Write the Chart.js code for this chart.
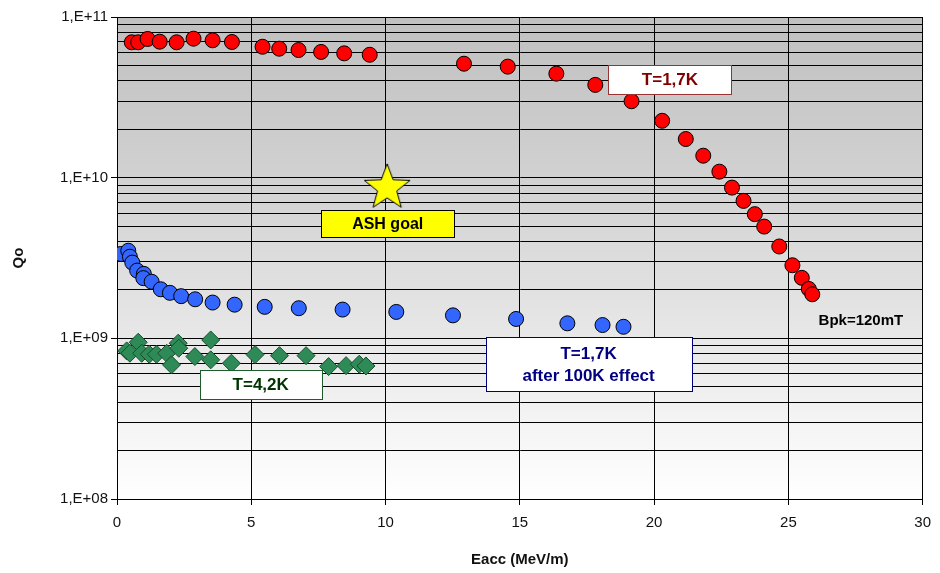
<!DOCTYPE html>
<html>
<head>
<meta charset="utf-8">
<script src="https://cdn.jsdelivr.net/npm/chart.js@4.4.1/dist/chart.umd.min.js"></script>
<style>
	html, body { margin: 0; padding: 0; background: #fff; }
	#wrap { width: 940px; height: 573px; position: relative; }
</style>
</head>
<body>
<div id="wrap"><canvas id="qe-chart"></canvas></div>
<script>
// T=1,7K before the 100K effect
const red_x = [0.55, 0.79, 1.14, 1.59, 2.22, 2.85, 3.56, 4.28, 5.42, 6.04, 6.76, 7.60, 8.46, 9.41,
	12.92, 14.55, 16.36, 17.81, 19.16, 20.30, 21.18, 21.83, 22.43, 22.90, 23.33, 23.75, 24.10,
	24.66, 25.15, 25.50, 25.76, 25.89];
const red_q = [6.96e10, 6.96e10, 7.3e10, 7.02e10, 6.96e10, 7.33e10, 7.16e10, 6.99e10, 6.53e10, 6.35e10,
	6.23e10, 6.06e10, 5.94e10, 5.82e10, 5.12e10, 4.91e10, 4.44e10, 3.78e10, 2.99e10, 2.26e10,
	1.74e10, 1.37e10, 1.09e10, 8.67e9, 7.17e9, 5.93e9, 4.96e9, 3.73e9, 2.85e9, 2.38e9, 2.03e9, 1.88e9];
// T=1,7K after 100K effect
const blue_x = [0.14, 0.42, 0.48, 0.57, 0.75, 1.00, 0.98, 1.29, 1.63, 1.97, 2.39, 2.91, 3.56, 4.38,
	5.50, 6.77, 8.40, 10.40, 12.51, 14.86, 16.77, 18.08, 18.86];
const blue_q = [3.35e9, 3.51e9, 3.22e9, 2.96e9, 2.64e9, 2.52e9, 2.37e9, 2.25e9, 2.02e9, 1.92e9, 1.83e9,
	1.75e9, 1.67e9, 1.62e9, 1.57e9, 1.54e9, 1.51e9, 1.46e9, 1.39e9, 1.32e9, 1.24e9, 1.21e9, 1.18e9];
// T=4,2K
const green_x = [0.36, 0.48, 0.79, 0.92, 1.20, 1.47, 1.85, 2.03, 2.28, 2.30, 2.90, 3.49, 3.49, 4.26,
	5.14, 6.05, 7.04, 7.88, 8.53, 9.02, 9.27];
const green_q = [8.35e8, 8.08e8, 9.45e8, 8.07e8, 7.96e8, 7.96e8, 8.07e8, 6.84e8, 9.33e8, 8.68e8, 7.70e8,
	9.77e8, 7.35e8, 7.00e8, 7.92e8, 7.80e8, 7.80e8, 6.67e8, 6.76e8, 6.90e8, 6.73e8];
// ASH goal
const goal_x = [10.06];
const goal_q = [8.9e9];

const x_ticks = [0, 5, 10, 15, 20, 25, 30];
const decades = [8, 9, 10, 11];

const notes = [
	{lines: ["T=1,7K"], x: 20.59, q: 4.08e10, w: 123, h: 29, fill: "#ffffff", edge: "#993333", color: "#800000"},
	{lines: ["ASH goal"], x: 10.08, q: 5.19e9, w: 133, h: 27, fill: "#ffff00", edge: "#000000", color: "#000000"},
	{lines: ["T=1,7K", "after 100K effect"], x: 17.56, q: 6.93e8, w: 206, h: 54, fill: "#ffffff", edge: "#000080", color: "#000080"},
	{lines: ["T=4,2K"], x: 5.35, q: 5.17e8, w: 122, h: 29, fill: "#ffffff", edge: "#1e5c2e", color: "#003300"},
	{lines: ["Bpk=120mT"], x: 27.7, q: 1.30e9, color: "#000000", plain: true}
];

const font_family = "'Liberation Sans', Arial, sans-serif";

function pts(xs, ys) {
	var out = [];
	for (let i = 0; i < xs.length; i++) out.push({x: xs[i], y: ys[i]});
	return out;
}

function is_decade(v) {
	const e = Math.round(Math.log10(v));
	return Math.abs(v - Math.pow(10, e)) < Math.pow(10, e) * 1e-6;
}

function star_image(r) {
	const c = document.createElement("canvas");
	const s = r * 2 + 4;
	c.width = s; c.height = s;
	const g = c.getContext("2d");
	g.beginPath();
	for (let i = 0; i < 10; i++) {
		const rad = i % 2 == 0 ? r : r * 0.42;
		const a = -Math.PI / 2 + i * Math.PI / 5;
		const px = s / 2 + rad * Math.cos(a);
		const py = s / 2 + 2 + rad * Math.sin(a);
		if (i == 0) g.moveTo(px, py); else g.lineTo(px, py);
	}
	g.closePath();
	g.fillStyle = "#ffff00";
	g.fill();
	g.lineWidth = 1;
	g.strokeStyle = "#000000";
	g.stroke();
	return c;
}

const bg_plugin = {
	id: "bg",
	beforeDraw(chart) {
		const a = chart.chartArea;
		const ctx = chart.ctx;
		const grad = ctx.createLinearGradient(0, a.top, 0, a.bottom);
		grad.addColorStop(0, "#c0c0c0");
		grad.addColorStop(0.35, "#d2d2d2");
		grad.addColorStop(1, "#ffffff");
		ctx.save();
		ctx.fillStyle = grad;
		ctx.fillRect(a.left, a.top, a.right - a.left, a.bottom - a.top);
		ctx.restore();
	}
};

const notes_plugin = {
	id: "notes",
	afterDatasetsDraw(chart) {
		const ctx = chart.ctx;
		const xs = chart.scales.x, ys = chart.scales.y;
		ctx.save();
		for (const n of notes) {
			const cx = xs.getPixelForValue(n.x);
			const cy = ys.getPixelForValue(n.q);
			if (!n.plain) {
				ctx.fillStyle = n.fill;
				ctx.fillRect(Math.round(cx - n.w / 2) + 0.5, Math.round(cy - n.h / 2) + 0.5, n.w, n.h);
				ctx.strokeStyle = n.edge;
				ctx.lineWidth = 1;
				ctx.strokeRect(Math.round(cx - n.w / 2) + 0.5, Math.round(cy - n.h / 2) + 0.5, n.w, n.h);
			}
			ctx.fillStyle = n.color;
			ctx.font = (n.plain ? "bold 15px " : (n.w < 130 || n.lines.length > 1 ? "bold 17px " : "bold 16px ")) + font_family;
			ctx.textAlign = "center";
			ctx.textBaseline = "middle";
			const lh = 22;
			for (let i = 0; i < n.lines.length; i++) {
				ctx.fillText(n.lines[i], cx, cy + (i - (n.lines.length - 1) / 2) * lh + 1);
			}
		}
		ctx.restore();
	}
};

Chart.defaults.font.family = font_family;
Chart.defaults.color = "#111";

const ctx = document.getElementById("qe-chart");
const chart = new Chart(ctx, {
	type: "scatter",
	data: {
		datasets: [
			{
				label: "T=4,2K",
				data: pts(green_x, green_q),
				pointStyle: "rectRot",
				pointRadius: 9,
				backgroundColor: "#2e8b57",
				borderColor: "#1b4d2a",
				borderWidth: 1
			},
			{
				label: "T=1,7K after 100K effect",
				data: pts(blue_x, blue_q),
				pointStyle: "circle",
				pointRadius: 7.5,
				backgroundColor: "#3366ff",
				borderColor: "#000000",
				borderWidth: 1
			},
			{
				label: "T=1,7K",
				data: pts(red_x, red_q),
				pointStyle: "circle",
				pointRadius: 7.5,
				backgroundColor: "#ff0000",
				borderColor: "#000000",
				borderWidth: 1
			},
			{
				label: "ASH goal",
				data: pts(goal_x, goal_q),
				pointStyle: star_image(24),
				pointRadius: 24
			}
		]
	},
	options: {
		responsive: true,
		maintainAspectRatio: false,
		animation: false,
		layout: {autoPadding: false, padding: {top: 17, right: 12, left: 0, bottom: 0}},
		plugins: {
			legend: {display: false},
			tooltip: {enabled: false}
		},
		scales: {
			x: {
				type: "linear",
				min: 0,
				max: 30,
				afterBuildTicks: (s) => { s.ticks = x_ticks.map(v => ({value: v})); },
				afterFit: (s) => { s.height = 74; },
				ticks: {
					font: {size: 15},
					color: "#111",
					padding: 9,
					maxRotation: 0
				},
				grid: {color: "#000", lineWidth: 1, tickLength: 6, tickColor: "#000"},
				border: {color: "#000", width: 1},
				title: {
					display: true,
					text: "Eacc (MeV/m)",
					font: {size: 15, weight: "bold"},
					color: "#111",
					padding: {top: 6}
				}
			},
			y: {
				type: "logarithmic",
				min: 1e8,
				max: 1e11,
				afterBuildTicks: (s) => {
					var t = [];
					for (const e of decades) {
						for (let m = 1; m <= 9; m++) {
							const v = m * Math.pow(10, e);
							if (v <= 1e11) t.push({value: v});
						}
					}
					s.ticks = t;
				},
				afterFit: (s) => { s.width = 117; },
				ticks: {
					autoSkip: false,
					font: {size: 15},
					color: "#111",
					padding: 3,
					callback: (v) => is_decade(v) ? "1,E+" + String(Math.round(Math.log10(v))).padStart(2, "0") : ""
				},
				grid: {
					color: "#000",
					lineWidth: 1,
					tickLength: 6,
					tickColor: (c) => (c.tick && is_decade(c.tick.value)) ? "#000" : "rgba(0,0,0,0)"
				},
				border: {color: "#000", width: 1},
				title: {
					display: true,
					text: "Qo",
					font: {size: 15, weight: "bold"},
					color: "#111",
					padding: {top: 10, bottom: 0}
				}
			}
		}
	},
	plugins: [bg_plugin, notes_plugin]
});
</script>
</body>
</html>
